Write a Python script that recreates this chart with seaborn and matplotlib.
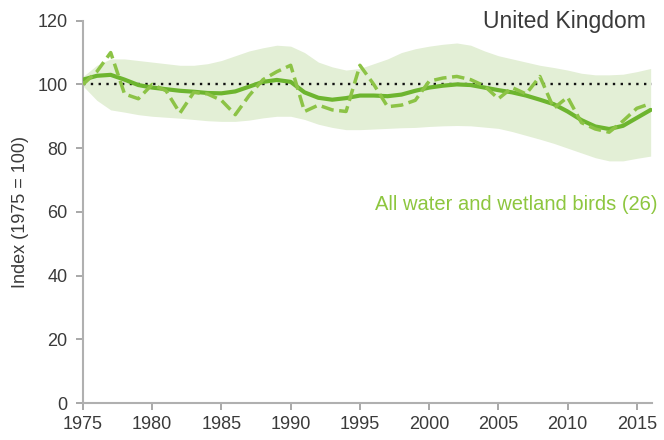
import matplotlib
matplotlib.use("Agg")
import matplotlib.pyplot as plt
import numpy as np
import pandas as pd
import seaborn as sns

# Wetland bird index, United Kingdom
years = list(range(1975, 2017))

annual_index = [
    100, 104, 110, 97, 95.5, 100, 98, 91, 97.5, 97,
    95, 90.5, 96.5, 101.5, 104, 106, 91.5, 93.5, 92, 91.5,
    106, 100, 93, 93.5, 95, 101, 102, 102.5, 101.5, 99.5,
    95.5, 99, 97, 102.5, 92.5, 96, 88, 86, 85, 88.5,
    92.5, 94,
]

smoothed_index = [
    101.5, 102.7, 103, 101.5, 99.8, 99, 98.5, 98, 97.7, 97.3,
    97.2, 97.8, 99.3, 100.8, 101.4, 100.8, 97.5, 95.8, 95.2, 95.7,
    96.5, 96.5, 96.3, 96.8, 98, 99, 99.6, 100, 99.8, 99,
    98.2, 97.5, 96.5, 95.2, 93.8, 91.5, 88.8, 86.8, 86, 87,
    89.5, 92,
]

upper_ci = [
    102.5, 106, 108, 108, 107.5, 107, 106.5, 106, 106, 106.5,
    107.5, 109, 110.5, 111.5, 112.3, 112, 110, 107, 105.5, 104.5,
    105, 106.5, 108, 110, 111.2, 112, 112.6, 113, 112.3, 110.5,
    109, 108, 107, 106, 105.3, 104.5, 103.5, 103, 103, 103.2,
    104, 105,
]

lower_ci = [
    99.5, 95, 92, 91.3, 90.5, 90, 89.7, 89.4, 89, 88.6,
    88.4, 88.4, 88.8, 89.5, 90, 90, 89, 87.5, 86.5, 85.8,
    85.8, 86, 86.2, 86.4, 86.5, 86.8, 87, 87.1, 87, 86.6,
    86.2, 85.2, 84, 82.8, 81.5, 80, 78.5, 77, 76, 76,
    76.8, 77.5,
]

baseline = 100
x_ticks = list(range(1975, 2016, 5))
y_ticks = list(range(0, 121, 20))

df = pd.DataFrame({
    "year": years,
    "annual": annual_index,
    "smoothed": smoothed_index,
    "upper": upper_ci,
    "lower": lower_ci,
})

sns.set_style("white")
plt.rcParams["font.family"] = ["Liberation Sans", "DejaVu Sans"]

green_solid = "#6db52f"
green_dash = "#8cc346"
band_col = "#e3efd6"
text_col = "#3a3a3a"

fig = plt.figure(figsize=(6.64, 4.4), dpi=100)
ax = fig.add_axes([0.125, 0.084, 0.857, 0.869])

# confidence band of the smoothed trend
ax.fill_between(df["year"], df["lower"], df["upper"], color=band_col,
                linewidth=0, zorder=1)

# baseline at 100
ax.axhline(baseline, color="#111111", linewidth=1.7,
           linestyle=(0, (1, 2.3)), zorder=2)

# smoothed trend and annual index
sns.lineplot(data=df, x="year", y="smoothed", ax=ax, color=green_solid,
             linewidth=3.0, zorder=3)
sns.lineplot(data=df, x="year", y="annual", ax=ax, color=green_dash,
             linewidth=2.5, linestyle=(0, (3.6, 1.6)), zorder=4)

ax.set_xlim(1975, 2016.1)
ax.set_ylim(0, 120)
ax.set_xticks(x_ticks)
ax.set_yticks(y_ticks)
ax.tick_params(axis="both", labelsize=13, colors="#9a9a9a",
               labelcolor=text_col, length=5, width=1.2, pad=4,
               direction="out", bottom=True, left=True)
ax.tick_params(axis="y", pad=6)
ax.set_xlabel("")
ax.set_ylabel("Index (1975 = 100)", fontsize=13, color=text_col, labelpad=6)

for side in ("top", "right"):
    ax.spines[side].set_visible(False)
for side in ("left", "bottom"):
    ax.spines[side].set_color("#b0b0b0")
    ax.spines[side].set_linewidth(1.5)

ax.text(0.99, 0.997, "United Kingdom", transform=ax.transAxes,
        ha="right", va="center", fontsize=16.5, color=text_col)
ax.text(1.01, 0.52, "All water and wetland birds (26)", transform=ax.transAxes,
        ha="right", va="center", fontsize=14.5, color="#8dc63f")

fig.savefig("out.png", dpi=100)
